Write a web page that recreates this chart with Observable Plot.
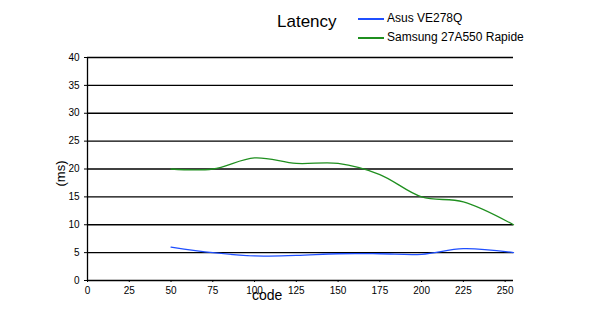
<!DOCTYPE html>
<html>
<head>
<meta charset="utf-8">
<script src="https://cdn.jsdelivr.net/npm/d3@7"></script>
<script src="https://cdn.jsdelivr.net/npm/@observablehq/plot@0.6"></script>
<style>
  html, body { margin: 0; padding: 0; background: #fff; }
  #wrap { position: relative; width: 600px; height: 319px; font-family: "Liberation Sans", Arial, sans-serif; }
  #wrap svg { position: absolute; left: 0; top: 0; }
  .ov { position: absolute; color: #000; white-space: nowrap; }
  .leg { position: absolute; font-size: 12px; white-space: nowrap; }
  .leg .sw { display: inline-block; width: 26px; height: 1.5px; vertical-align: middle; margin-right: 3px; }
</style>
</head>
<body>
<div id="wrap"></div>
<script>
const codes = [50, 75, 100, 125, 150, 175, 200, 225, 255];
const asus = [6.0, 5.0, 4.4, 4.5, 4.8, 4.8, 4.7, 5.7, 5.0];
const samsung = [20.0, 20.0, 22.0, 21.0, 21.0, 19.0, 15.0, 14.1, 10.0];
const seriesNames = ["Asus VE278Q", "Samsung 27A550 Rapide"];
const seriesColors = ["#1f4fff", "#1f8f1f"];
const xTicks = [0, 25, 50, 75, 100, 125, 150, 175, 200, 225, 250];
const yTicks = [0, 5, 10, 15, 20, 25, 30, 35, 40];

const rows = [];
codes.forEach((c, i) => {
  rows.push({code: c, ms: asus[i], s: seriesNames[0]});
  rows.push({code: c, ms: samsung[i], s: seriesNames[1]});
});

const chart = Plot.plot({
  width: 600,
  height: 319,
  marginLeft: 87,
  marginRight: 87,
  marginTop: 57,
  marginBottom: 39,
  style: {fontFamily: '"Liberation Sans", Arial, sans-serif', fontSize: "10px", background: "transparent"},
  x: {domain: [0, 255], ticks: xTicks, label: null},
  y: {domain: [0, 40], ticks: yTicks, label: null},
  color: {domain: seriesNames, range: seriesColors},
  marks: [
    Plot.ruleY(yTicks, {stroke: "#000", strokeWidth: 1.3}),
    Plot.ruleX([0], {stroke: "#000", strokeWidth: 1.3}),
    Plot.axisY({ticks: yTicks, tickSize: 3, tickPadding: 5, label: null, fontSize: 10}),
    Plot.axisX({ticks: xTicks, tickSize: 2, tickPadding: 4, label: null, fontSize: 10}),
    Plot.line(rows, {x: "code", y: "ms", stroke: "s", z: "s", curve: "catmull-rom", strokeWidth: 1.3})
  ]
});
const wrap = document.getElementById("wrap");
wrap.appendChild(chart);

function ov(html, css) {
  const d = document.createElement("div");
  d.className = "ov";
  d.innerHTML = html;
  Object.assign(d.style, css);
  wrap.appendChild(d);
  return d;
}
ov("Latency", {left: "277px", top: "12px", fontSize: "17px"});
ov("code", {left: "252px", top: "287px", fontSize: "14px"});
ov("(ms)", {left: "47px", top: "166px", fontSize: "13px", transform: "rotate(-90deg)", transformOrigin: "center"});

seriesNames.forEach((n, i) => {
  const d = document.createElement("div");
  d.className = "leg";
  d.style.left = "358px";
  d.style.top = (11 + i * 19) + "px";
  d.innerHTML = `<span class="sw" style="background:${seriesColors[i]}"></span>${n}`;
  wrap.appendChild(d);
});
</script>
</body>
</html>
